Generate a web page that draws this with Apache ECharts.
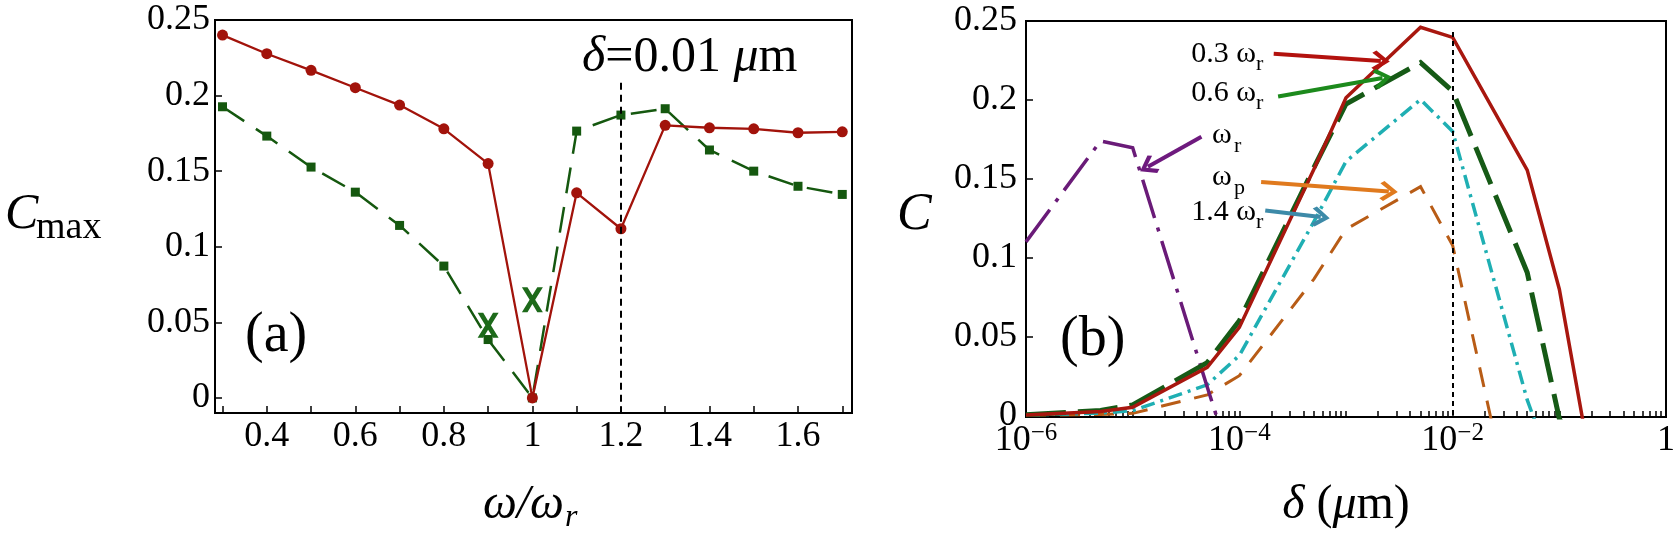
<!DOCTYPE html>
<html>
<head>
<meta charset="utf-8">
<script src="https://cdn.jsdelivr.net/npm/echarts@6/dist/echarts.min.js"></script>
<style>
  html, body { margin: 0; background: #fff; }
  #main { width: 1678px; height: 539px; }
</style>
</head>
<body>
<div id="main"></div>
<script>
// ---- panel (a): C_max against omega/omega_r ----
var omega = [0.3, 0.4, 0.5, 0.6, 0.7, 0.8, 0.9, 1.0, 1.1, 1.2, 1.3, 1.4, 1.5, 1.6, 1.7];
var cmaxRed = [0.240, 0.2277, 0.2167, 0.2052, 0.1937, 0.178, 0.155, 0.0, 0.1357, 0.1119, 0.1803, 0.1787, 0.178, 0.1754, 0.176];
var cmaxGreen = [0.1926, 0.1732, 0.1527, 0.1361, 0.1141, 0.0872, 0.0386, 0.0, 0.1765, 0.1871, 0.1913, 0.164, 0.150, 0.140, 0.1346];
var crossOmega = [0.9, 1.0];
var crossC = [0.048, 0.065];
var omegaTicks = [0.3, 0.4, 0.5, 0.6, 0.7, 0.8, 0.9, 1.0, 1.1, 1.2, 1.3, 1.4, 1.5, 1.6, 1.7];
var omegaLabels = [0.4, 0.6, 0.8, 1.0, 1.2, 1.4, 1.6];
var cTicks = [0, 0.05, 0.1, 0.15, 0.2, 0.25];
var markOmega = 1.2;          // dotted line, delta = 0.01 um
var markOmegaTop = 0.2085;

// ---- panel (b): C against delta ----
var delta = [1e-6, 5e-6, 1e-5, 5e-5, 1e-4, 5e-4, 1e-3, 5e-3, 1e-2, 5e-2, 1e-1, 5e-1];
var c03 = [0.0003, 0.0025, 0.0052, 0.0305, 0.0558, 0.156, 0.2013, 0.246, 0.2396, 0.1555, 0.080, -0.184];
var c06 = [0.0004, 0.0032, 0.0066, 0.0335, 0.060, 0.157, 0.1974, 0.2236, 0.2055, 0.0906, -0.002, -0.1];
var c10 = [0.110, 0.174, 0.1697, 0.018, -0.046, null, null, null, null, null, null, null];
var cP = [0.0001, 0.0006, 0.0013, 0.013, 0.0252, 0.0864, 0.118, 0.145, 0.1077, -0.106, null, null];
var c14 = [0.0002, 0.0015, 0.0030, 0.0194, 0.038, 0.1228, 0.161, 0.2002, 0.180, 0.0098, -0.046, null];
var deltaLabelExp = [-6, -4, -2, 0];
var deltaDecades = [-6, -5, -4, -3, -2, -1];
var markDelta = 0.01;
var markDeltaTop = 0.243;

// arrows from label to curve, [delta, C]
var arrows = [
  { from: [2.1e-4, 0.2292], to: [2.12e-3, 0.2247], color: '#b3120e' },
  { from: [2.31e-4, 0.2022], to: [2.2e-3, 0.2139], color: '#1c8a1c' },
  { from: [4.41e-5, 0.1767], to: [1.39e-5, 0.1576], color: '#6e1a7e' },
  { from: [1.6e-4, 0.148], to: [2.52e-3, 0.142], color: '#e07a1e' },
  { from: [1.75e-4, 0.1299], to: [5.8e-4, 0.1257], color: '#3d8aa8' }
];

var serif = "'Liberation Serif', 'Times New Roman', Times, 'DejaVu Serif', serif";

function pairs(xs, ys) {
  return xs.map(function (x, i) { return [x, ys[i]]; });
}
function logPairs(xs, ys) {
  return xs.map(function (x, i) { return [Math.log10(x), ys[i]]; });
}

var deltaTicks = [];
deltaDecades.forEach(function (k) {
  for (var m = 1; m <= 9; m++) deltaTicks.push(Math.log10(m) + k);
});
deltaTicks.push(0);

var chevron = 'path://M0,0 L10,9 L7.5,11.5 L0,4.5 L-7.5,11.5 L-10,9 Z';
var boldX = 'path://M0,0 L8,0 L15,10.5 L22,0 L30,0 L19,16 L30,32 L22,32 L15,21.5 L8,32 L0,32 L11,16 Z';

var axisLineStyle = { show: true, onZero: false, lineStyle: { color: '#000', width: 2 } };
var tickStyle = { color: '#000', width: 1.5 };
var labelStyle = { color: '#000', fontSize: 36, fontFamily: serif };

function txt(s, x, y, size, opts) {
  var style = { text: s, x: x, y: y, verticalAlign: 'middle', fill: '#000',
    fontSize: size, fontFamily: serif };
  for (var k in opts) style[k] = opts[k];
  return { type: 'text', z: 10, style: style };
}

var myChart = echarts.init(document.getElementById('main'));

var option = {
  animation: false,
  backgroundColor: '#fff',
  textStyle: { fontFamily: serif },
  grid: [
    { left: 215, right: 826, top: 20, bottom: 126, show: true, borderColor: '#000', borderWidth: 2 },
    { left: 1026, right: 12, top: 21, bottom: 122, show: true, borderColor: '#000', borderWidth: 2 }
  ],
  xAxis: [
    {
      type: 'value', gridIndex: 0, min: 0.283, max: 1.722,
      axisLine: axisLineStyle, splitLine: { show: false },
      axisTick: { inside: true, length: 7, customValues: omegaTicks, lineStyle: tickStyle },
      axisLabel: Object.assign({ margin: 6, customValues: omegaLabels,
        formatter: function (v) { return String(+v.toFixed(1)); } }, labelStyle)
    },
    {
      type: 'value', gridIndex: 1, min: -6, max: 0,
      axisLine: axisLineStyle, splitLine: { show: false },
      axisTick: { inside: true, length: 6, customValues: deltaTicks, lineStyle: tickStyle },
      axisLabel: {
        margin: 4, customValues: deltaLabelExp,
        formatter: function (v) {
          return v === 0 ? '{n|1}' : '{n|10}{s|\u2212' + (-v) + '}';
        },
        rich: {
          n: { fontSize: 36, fontFamily: serif, color: '#000', lineHeight: 40 },
          s: { fontSize: 25, fontFamily: serif, color: '#000', lineHeight: 26, verticalAlign: 'top' }
        }
      }
    }
  ],
  yAxis: [
    {
      type: 'value', gridIndex: 0, min: -0.01, max: 0.25,
      axisLine: axisLineStyle, splitLine: { show: false },
      axisTick: { inside: true, length: 7, customValues: cTicks, lineStyle: tickStyle },
      axisLabel: Object.assign({ margin: 5, customValues: cTicks,
        formatter: function (v) { return String(+v.toFixed(2)); } }, labelStyle)
    },
    {
      type: 'value', gridIndex: 1, min: -0.001, max: 0.25,
      axisLine: axisLineStyle, splitLine: { show: false },
      axisTick: { inside: true, length: 7, customValues: cTicks, lineStyle: tickStyle },
      axisLabel: Object.assign({ margin: 9, customValues: cTicks,
        formatter: function (v) { return String(+v.toFixed(2)); } }, labelStyle)
    }
  ],
  series: [
    {
      name: 'green (a)', type: 'line', xAxisIndex: 0, yAxisIndex: 0,
      data: pairs(omega, cmaxGreen),
      symbol: 'rect', symbolSize: 9,
      itemStyle: { color: '#15580f' },
      lineStyle: { color: '#15580f', width: 2.5, type: [26, 14] }
    },
    {
      name: 'red (a)', type: 'line', xAxisIndex: 0, yAxisIndex: 0,
      data: pairs(omega, cmaxRed),
      symbol: 'circle', symbolSize: 11,
      itemStyle: { color: '#a2130b' },
      lineStyle: { color: '#a2130b', width: 2.3 },
      markLine: {
        silent: true, symbol: 'none', label: { show: false },
        lineStyle: { color: '#000', width: 2, type: [7, 5] },
        data: [[{ coord: [markOmega, markOmegaTop] }, { coord: [markOmega, -0.01] }]]
      }
    },
    {
      name: 'crosses', type: 'scatter', xAxisIndex: 0, yAxisIndex: 0, z: 5,
      data: pairs(crossOmega, crossC),
      symbol: boldX, symbolSize: [21, 25],
      itemStyle: { color: '#1d6a1a', opacity: 1 },
      emphasis: { disabled: true }
    },
    {
      name: 'omega_p', type: 'line', xAxisIndex: 1, yAxisIndex: 1,
      data: logPairs(delta, cP), showSymbol: false,
      lineStyle: { color: '#b85c16', width: 3, type: [20, 14], join: 'miter' }
    },
    {
      name: '1.4 omega_r', type: 'line', xAxisIndex: 1, yAxisIndex: 1,
      data: logPairs(delta, c14), showSymbol: false,
      lineStyle: { color: '#1fafb3', width: 3.5, type: [14, 6, 3, 6], join: 'miter' }
    },
    {
      name: 'omega_r', type: 'line', xAxisIndex: 1, yAxisIndex: 1,
      data: logPairs(delta, c10), showSymbol: false,
      lineStyle: { color: '#6a1b78', width: 3.5, type: [40, 10, 4, 10], join: 'miter' }
    },
    {
      name: '0.6 omega_r', type: 'line', xAxisIndex: 1, yAxisIndex: 1,
      data: logPairs(delta, c06), showSymbol: false,
      lineStyle: { color: '#165a16', width: 5, type: [40, 12], join: 'miter' }
    },
    {
      name: '0.3 omega_r', type: 'line', xAxisIndex: 1, yAxisIndex: 1,
      data: logPairs(delta, c03), showSymbol: false,
      lineStyle: { color: '#a8170f', width: 3.5, join: 'miter' },
      markLine: {
        silent: true, label: { show: false }, symbol: 'none',
        data: [[
          { coord: [Math.log10(markDelta), markDeltaTop], lineStyle: { color: '#000', width: 2, type: [5, 4] } },
          { coord: [Math.log10(markDelta), -0.001] }
        ]].concat(arrows.map(function (a) {
          return [
            { coord: [Math.log10(a.from[0]), a.from[1]], symbol: 'none',
              lineStyle: { color: a.color, width: 4, type: 'solid' } },
            { coord: [Math.log10(a.to[0]), a.to[1]], symbol: chevron, symbolSize: [20, 18],
              itemStyle: { color: a.color } }
          ];
        }))
      }
    }
  ],
  graphic: [
    txt('(a)', 245, 336, 56),
    txt('(b)', 1060, 340, 56),
    txt('{i|\u03b4}=0.01 {i|\u03bc}m', 582, 58, 50,
      { rich: { i: { fontStyle: 'italic', fontSize: 50, fontFamily: serif } } }),
    // axis names
    txt('C', 5, 215, 50, { fontStyle: 'italic' }),
    txt('max', 36, 228, 38),
    txt('C', 897, 215, 52, { fontStyle: 'italic' }),
    txt('\u03c9/\u03c9', 564, 505, 48, { align: 'right', fontStyle: 'italic' }),
    txt('r', 565, 518, 32, { fontStyle: 'italic' }),
    txt('{i|\u03b4} ({i|\u03bc}m)', 1346, 505, 48,
      { align: 'center', rich: { i: { fontStyle: 'italic', fontSize: 48, fontFamily: serif } } }),
    // curve labels in (b)
    txt('0.3 \u03c9', 1256, 54, 30, { align: 'right' }),
    txt('r', 1256, 64, 22),
    txt('0.6 \u03c9', 1256, 93, 30, { align: 'right' }),
    txt('r', 1256, 103, 22),
    txt('\u03c9', 1212, 135, 30),
    txt('r', 1234, 146, 22),
    txt('\u03c9', 1212, 177, 30),
    txt('p', 1234, 188, 22),
    txt('1.4 \u03c9', 1256, 212, 30, { align: 'right' }),
    txt('r', 1256, 222, 22)
  ]
};

option && myChart.setOption(option);
</script>
</body>
</html>
